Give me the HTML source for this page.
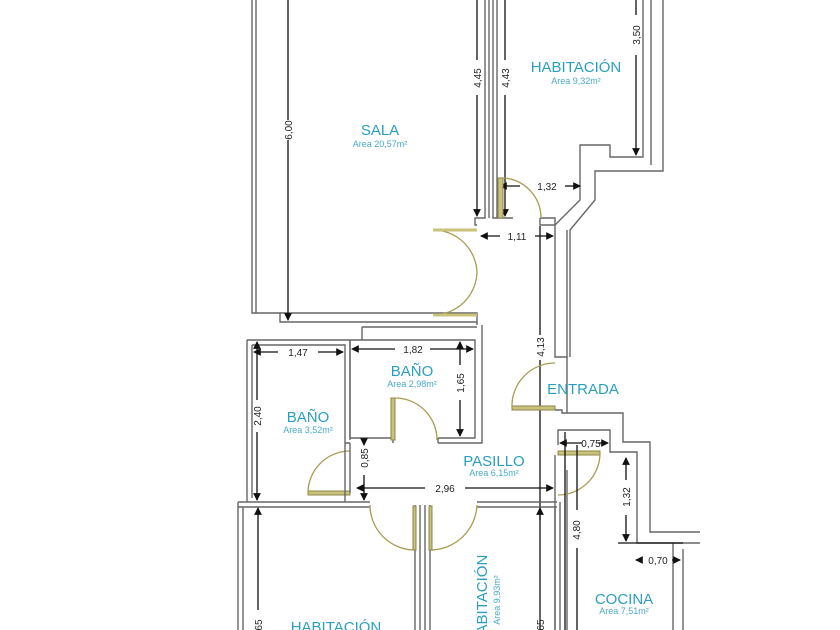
<!DOCTYPE html>
<html><head><meta charset="utf-8"><style>
html,body{margin:0;padding:0;background:#fff;}
svg{display:block;}
.w{fill:none;stroke:#666;stroke-width:1.4;}
.d{fill:none;stroke:#111;stroke-width:1.3;}
.dr{fill:none;stroke:#a79c52;stroke-width:1.3;}
.lf{fill:#c9c27a;stroke:#8c844a;stroke-width:1;}
.t{font-family:"Liberation Sans",sans-serif;fill:#2a9fbd;font-size:15px;text-anchor:middle;}
.a{font-family:"Liberation Sans",sans-serif;fill:#4aa9c6;font-size:9px;text-anchor:middle;}
.n{font-family:"Liberation Sans",sans-serif;fill:#222;font-size:10px;text-anchor:middle;}
</style></head><body>
<svg width="840" height="630" viewBox="0 0 840 630" xmlns="http://www.w3.org/2000/svg">
<rect width="840" height="630" fill="#fff"/>
<defs><marker id="ar" viewBox="0 0 8 8" refX="7" refY="4" markerWidth="6" markerHeight="6" orient="auto-start-reverse"><path d="M0,0L8,4L0,8z" fill="#111"/></marker></defs>

<!-- SALA walls -->
<path class="w" d="M252,0V313H280V322H477"/>
<path class="w" d="M256,0V313"/>
<path class="w" d="M280,313H477V325"/>
<path class="w" d="M485,0V218H475V225H477"/>
<path class="w" d="M489,0V218"/>
<path class="w" d="M493,0V218H513"/>
<path class="w" d="M497,0V218"/>
<!-- Habitación top right -->
<path class="w" d="M643,0V157H610V145H580V200L555,225"/>
<path class="w" d="M651,0V165"/>
<path class="w" d="M663,0V171H595V200L570,230V357"/>
<path class="w" d="M540,218H555V225M540,218V225H555"/>
<path class="w" d="M555,225V357H567V230"/>
<!-- dims top -->
<line class="d" x1="288" y1="0" x2="288" y2="120"/><line class="d" x1="288" y1="140" x2="288" y2="320" marker-end="url(#ar)"/>
<text class="n" transform="translate(292,130) rotate(-90)">6,00</text>
<line class="d" x1="477" y1="0" x2="477" y2="60"/><line class="d" x1="477" y1="95" x2="477" y2="216" marker-end="url(#ar)"/>
<text class="n" transform="translate(481,78) rotate(-90)">4,45</text>
<line class="d" x1="505" y1="0" x2="505" y2="60"/><line class="d" x1="505" y1="95" x2="505" y2="216" marker-end="url(#ar)"/>
<text class="n" transform="translate(509,78) rotate(-90)">4,43</text>
<line class="d" x1="636" y1="0" x2="636" y2="15"/><line class="d" x1="636" y1="55" x2="636" y2="155" marker-end="url(#ar)"/>
<text class="n" transform="translate(640,35) rotate(-90)">3,50</text>
<line class="d" x1="520" y1="186" x2="500" y2="186" marker-end="url(#ar)"/><line class="d" x1="565" y1="186" x2="580" y2="186" marker-end="url(#ar)"/>
<text class="n" x="547" y="190">1,32</text>
<line class="d" x1="500" y1="236" x2="481" y2="236" marker-end="url(#ar)"/><line class="d" x1="535" y1="236" x2="553" y2="236" marker-end="url(#ar)"/>
<text class="n" x="517" y="240">1,11</text>
<line class="d" x1="540" y1="226" x2="540" y2="335"/><line class="d" x1="540" y1="360" x2="540" y2="630"/>
<text class="n" transform="translate(544,347) rotate(-90)">4,13</text>
<!-- doors top -->
<rect class="lf" x="498" y="178" width="5" height="40"/>
<path class="dr" d="M503,178A40,40 0 0 1 541,218"/>
<path class="dr" d="M433,230H477M433,230A44,44 0 0 1 477,272A44,44 0 0 1 433,315H477" />
<line x1="433" y1="230" x2="477" y2="230" stroke="#c9c27a" stroke-width="3"/>
<line x1="433" y1="315" x2="477" y2="315" stroke="#c9c27a" stroke-width="3"/>
<!-- Labels top -->
<text class="t" x="380" y="135">SALA</text><text class="a" x="380" y="147">Area 20,57m²</text>
<text class="t" x="576" y="72">HABITACIÓN</text><text class="a" x="576" y="84">Area 9,32m²</text>

<!-- Baños -->
<path class="w" d="M247,340V502M252,345V498"/>
<path class="w" d="M247,340H350V440M252,345H345V443"/>
<path class="w" d="M362,327H477M362,327V340M350,340V438H393M438,438H475V340H350M482,325V443H438M350,443H345"/>
<path class="w" d="M393,400V443M438,438V443"/>
<rect class="lf" x="391" y="398" width="4" height="42"/>
<path class="dr" d="M395,398A42,42 0 0 1 437,440"/>
<!-- corridor bottom -->
<path class="w" d="M238,502H370M238,507H370M477,502H557M477,507H557"/>
<path class="w" d="M238,502V630M243,507V630M415,505V630M420,505V630M425,505V630M430,505V630M555,507V630M560,502V630"/>
<path class="dr" d="M370,505A45,45 0 0 0 415,550M477,505A47,47 0 0 1 430,550"/>
<rect class="lf" x="413" y="506" width="3" height="44"/><rect class="lf" x="429" y="506" width="3" height="44"/>
<!-- baño door left -->
<rect class="lf" x="308" y="491" width="42" height="4"/>
<path class="dr" d="M308,493A42,42 0 0 1 350,451"/>
<path class="w" d="M350,443V493M345,443V502"/>
<!-- entrada -->
<rect class="lf" x="512" y="406" width="43" height="4"/>
<path class="dr" d="M512,408A43,43 0 0 1 555,363"/>
<path class="w" d="M555,410H562V413H623V442H650V532H700M567,357V413"/>
<path class="w" d="M558,445V430H610V452H637V543H700"/>
<path class="w" d="M555,455V630M567,470V630M673,543V630M683,549V630"/>
<rect class="lf" x="558" y="451" width="42" height="4"/>
<path class="dr" d="M600,453A42,42 0 0 1 558,495"/>
<!-- dims bottom -->
<line class="d" x1="278" y1="352" x2="254" y2="352" marker-end="url(#ar)"/><line class="d" x1="318" y1="352" x2="343" y2="352" marker-end="url(#ar)"/>
<text class="n" x="298" y="356">1,47</text>
<line class="d" x1="395" y1="349" x2="352" y2="349" marker-end="url(#ar)"/><line class="d" x1="430" y1="349" x2="473" y2="349" marker-end="url(#ar)"/>
<text class="n" x="413" y="353">1,82</text>
<line class="d" x1="460" y1="365" x2="460" y2="342" marker-end="url(#ar)"/><line class="d" x1="460" y1="400" x2="460" y2="436" marker-end="url(#ar)"/>
<text class="n" transform="translate(464,383) rotate(-90)">1,65</text>
<line class="d" x1="257" y1="400" x2="257" y2="342" marker-end="url(#ar)"/><line class="d" x1="257" y1="432" x2="257" y2="500" marker-end="url(#ar)"/>
<text class="n" transform="translate(261,416) rotate(-90)">2,40</text>
<line class="d" x1="364" y1="440" x2="364" y2="445" marker-end="url(#ar)"/><line class="d" x1="364" y1="475" x2="364" y2="500" marker-end="url(#ar)"/>
<text class="n" transform="translate(368,458) rotate(-90)">0,85</text>
<line class="d" x1="425" y1="488" x2="357" y2="488" marker-end="url(#ar)"/><line class="d" x1="465" y1="488" x2="553" y2="488" marker-end="url(#ar)"/>
<text class="n" x="445" y="492">2,96</text>
<line class="d" x1="258" y1="520" x2="258" y2="508" marker-end="url(#ar)"/><line class="d" x1="258" y1="520" x2="258" y2="610"/>
<text class="n" transform="translate(262,625) rotate(-90)">65</text>
<line class="d" x1="540" y1="520" x2="540" y2="508" marker-end="url(#ar)"/>
<text class="n" transform="translate(544,625) rotate(-90)">65</text>
<line class="d" x1="565" y1="432" x2="565" y2="630"/>
<text class="n" transform="translate(580,530) rotate(-90)">4,80</text>
<line class="d" x1="577" y1="445" x2="577" y2="510"/><line class="d" x1="577" y1="548" x2="577" y2="630"/>
<line class="d" x1="582" y1="443" x2="560" y2="443" marker-end="url(#ar)"/><line class="d" x1="598" y1="443" x2="608" y2="443" marker-end="url(#ar)"/>
<text class="n" x="591" y="447">0,75</text>
<line class="d" x1="626" y1="480" x2="626" y2="458" marker-end="url(#ar)"/><line class="d" x1="626" y1="515" x2="626" y2="541" marker-end="url(#ar)"/>
<text class="n" transform="translate(630,497) rotate(-90)">1,32</text>
<line class="d" x1="618" y1="543" x2="683" y2="543"/>
<line class="d" x1="640" y1="560" x2="636" y2="560" marker-end="url(#ar)"/><line class="d" x1="672" y1="560" x2="680" y2="560" marker-end="url(#ar)"/>
<text class="n" x="658" y="564">0,70</text>
<!-- labels bottom -->
<text class="t" x="412" y="376">BAÑO</text><text class="a" x="412" y="387">Area 2,98m²</text>
<text class="t" x="308" y="422">BAÑO</text><text class="a" x="308" y="433">Area 3,52m²</text>
<text class="t" x="583" y="394">ENTRADA</text>
<text class="t" x="494" y="466">PASILLO</text><text class="a" x="494" y="476">Area 6,15m²</text>
<text class="t" x="624" y="604">COCINA</text><text class="a" x="624" y="614">Area 7,51m²</text>
<text class="t" x="336" y="632">HABITACIÓN</text>
<text class="t" transform="translate(487,600) rotate(-90)">HABITACIÓN</text>
<text class="a" transform="translate(500,600) rotate(-90)">Area 9,93m²</text>
</svg>
</body></html>
